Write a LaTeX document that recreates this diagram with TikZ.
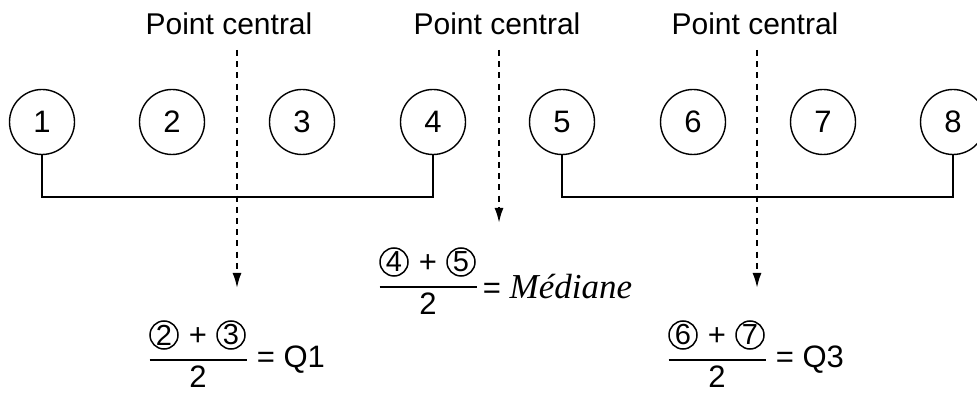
\documentclass[tikz,border=0pt]{standalone}
\usepackage{fontspec}
\setmainfont{Liberation Sans}
\newfontfamily\timesfont{Liberation Serif}
\usetikzlibrary{arrows.meta, positioning, calc}

\begin{document}
\begin{tikzpicture}[x=0.5pt, y=-0.5pt]
  \tikzset{
    valnode/.style={circle, draw, line width=0.7pt, minimum size=32.5pt,
      inner sep=0pt, font=\fontsize{15.5}{17}\selectfont},
    pclabel/.style={font=\fontsize{15}{17}\selectfont, inner sep=1pt},
    cdig/.style={circle, draw, line width=0.75pt, minimum size=14pt,
      inner sep=0pt, font=\fontsize{14.5}{15}\selectfont},
    ftext/.style={font=\fontsize{15.5}{17}\selectfont, inner sep=0pt},
    bracket/.style={line width=1pt},
    fracbar/.style={line width=1pt},
    dasharrow/.style={line width=1pt, dash pattern=on 3pt off 2.6pt,
      -{Latex[length=7.5pt, width=4.5pt]}}
  }
  \useasboundingbox (0,0) rectangle (977,394);

  % values
  \foreach \i/\x in {1/42, 2/172, 3/302, 4/433, 5/562, 6/693, 7/823, 8/953}
    \node[valnode] (c\i) at (\x,122) {\i};

  % brackets
  \draw[bracket] (c1.south) -- ++(0,42) -| (c4.south);
  \draw[bracket] (c5.south) -- ++(0,42) -| (c8.south);

  % labels
  \node[pclabel] (pc1) at (229,24) {Point central};
  \node[pclabel] (pc2) at (497,24) {Point central};
  \node[pclabel] (pc3) at (755,24) {Point central};

  \coordinate (d1) at (237,288);
  \coordinate (d2) at (499,223);
  \coordinate (d3) at (757,288);
  \draw[dasharrow] (d1 |- 0,50) -- (d1);
  \draw[dasharrow] (d2 |- 0,50) -- (d2);
  \draw[dasharrow] (d3 |- 0,50) -- (d3);

  % fractions
  \foreach \a/\b/\cx/\by/\nm in {2/3/198/360/q1, 4/5/428/287/med, 6/7/717/360/q3} {
    \node[cdig] (na\nm) at (\cx-34,\by-25) {\a};
    \node[ftext] (plus\nm) at (\cx,\by-23) {+};
    \node[cdig] (nb\nm) at (\cx+33,\by-25) {\b};
    \coordinate (bl\nm) at (\cx-48.5,\by);
    \coordinate (br\nm) at (\cx+48.5,\by);
    \draw[fracbar] (bl\nm) -- (br\nm);
    \node[ftext] (den\nm) at (\cx,\by+17) {2};
  }

  % results
  \node[ftext, right=5pt of brq1] (resq1) {= Q1};
  \node[ftext, right=3pt of brmed] (resmed) {= {\timesfont\itshape\fontsize{17.5}{18}\selectfont Médiane}};
  \node[ftext, right=5pt of brq3] (resq3) {= Q3};
\end{tikzpicture}
\end{document}
